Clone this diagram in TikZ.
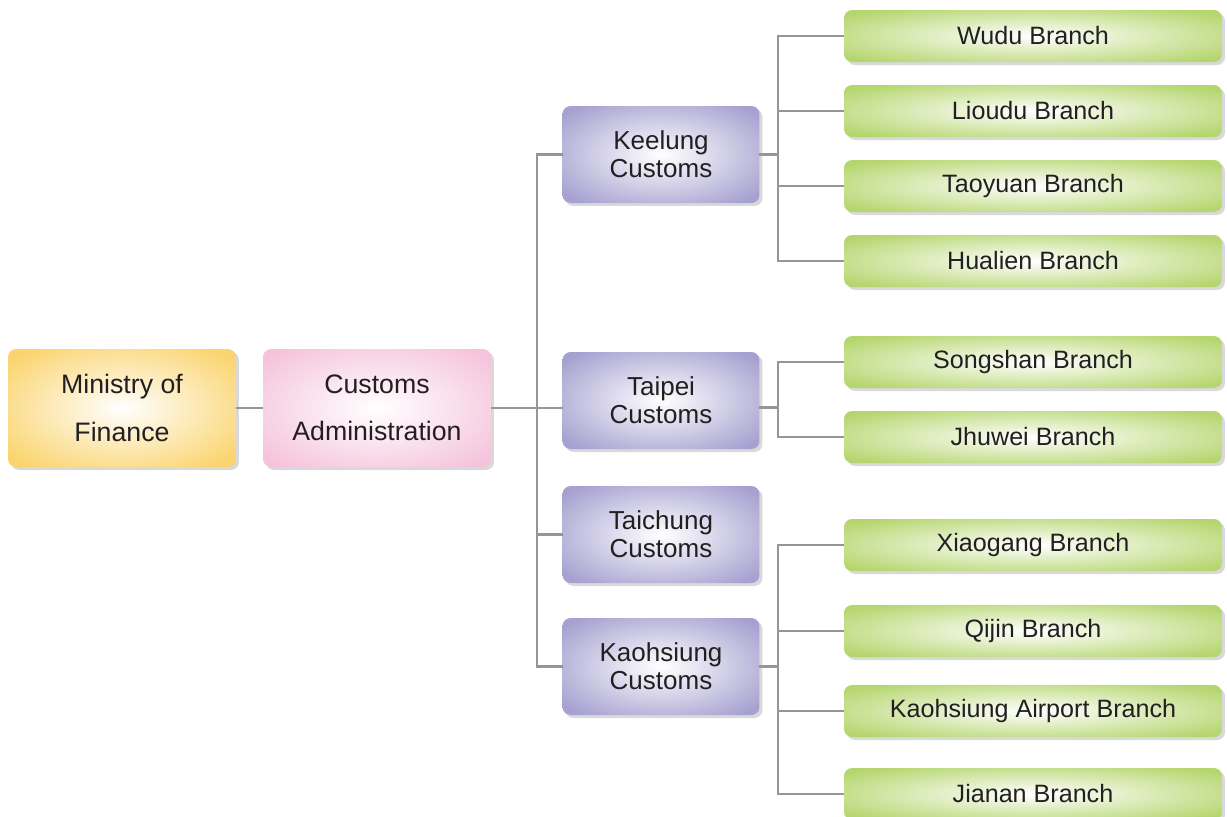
\documentclass[tikz,border=0pt]{standalone}
\usepackage{fontspec}
\setmainfont{Liberation Sans}
\usepackage{tikz}
\usetikzlibrary{shadows}

\definecolor{finyellow}{RGB}{250,212,110}
\definecolor{adminpink}{RGB}{245,196,220}
\definecolor{custpurple}{RGB}{166,161,208}
\definecolor{branchgreen}{RGB}{181,214,110}
\definecolor{linegray}{RGB}{150,150,150}
\definecolor{textgray}{RGB}{35,31,32}
\colorlet{glowrim}{white}

\pgfdeclareradialshading[glowrim]{glow}{\pgfpoint{0bp}{0bp}}{color(0bp)=(white); color(32bp)=(glowrim); color(50bp)=(glowrim)}

\tikzset{
  box/.style={rounded corners=0.16cm, inner sep=0pt, outer sep=0pt, align=center,
    text=textgray, shading=glow, /utils/exec={\colorlet{glowrim}{#1}},
    drop shadow={shadow xshift=0.06cm, shadow yshift=-0.06cm, fill=black!15, opacity=1}},
  topbox/.style={box=#1, minimum width=4.56cm, minimum height=2.36cm, font=\fontsize{15.2}{27}\selectfont},
  custbox/.style={box=custpurple, minimum width=3.94cm, minimum height=1.94cm, font=\fontsize{14.8}{16}\selectfont},
  branchbox/.style={box=branchgreen, minimum width=7.56cm, minimum height=1.04cm, font=\fontsize{14.3}{15}\selectfont},
  conn/.style={draw=linegray, line width=1.6pt}
}

\begin{document}
\begin{tikzpicture}[x=0.02cm, y=-0.02cm]
\useasboundingbox (0,0) rectangle (1227,816);

% top of the tree
\node[topbox=finyellow] (ministry) at (122,408) {Ministry of\\Finance};
\node[topbox=adminpink] (admin) at (377,408) {Customs\\Administration};

% customs offices
\node[custbox] (keelung) at (661,154.5) {Keelung\\Customs};
\node[custbox] (taipei) at (661,400.5) {Taipei\\Customs};
\node[custbox] (taichung) at (661,534.5) {Taichung\\Customs};
\node[custbox] (kaohsiung) at (661,666.5) {Kaohsiung\\Customs};

% branches
\node[branchbox] (wudu) at (1033,36) {Wudu Branch};
\node[branchbox] (lioudu) at (1033,111) {Lioudu Branch};
\node[branchbox] (taoyuan) at (1033,186) {Taoyuan Branch};
\node[branchbox] (hualien) at (1033,261) {Hualien Branch};
\node[branchbox] (songshan) at (1033,362) {Songshan Branch};
\node[branchbox] (jhuwei) at (1033,437) {Jhuwei Branch};
\node[branchbox] (xiaogang) at (1033,545) {Xiaogang Branch};
\node[branchbox] (qijin) at (1033,631) {Qijin Branch};
\node[branchbox] (airport) at (1033,711) {Kaohsiung Airport Branch};
\node[branchbox] (jianan) at (1033,794) {Jianan Branch};

\coordinate (trunk) at (537,0);
\coordinate (bus) at (778,0);

% connectors
\draw[conn] (ministry.east) -- (admin.west);
\draw[conn] (admin.east) -- (taipei.west |- admin.east);
\draw[conn] (keelung.west) -- (keelung.west -| trunk) -- (kaohsiung.west -| trunk) -- (kaohsiung.west);
\draw[conn] (taichung.west) -- (taichung.west -| trunk);

\draw[conn] (keelung.east) -- (keelung.east -| bus);
\draw[conn] (wudu.west) -- (wudu.west -| bus) -- (hualien.west -| bus) -- (hualien.west);
\foreach \b in {lioudu, taoyuan}
  \draw[conn] (\b.west) -- (\b.west -| bus);

\draw[conn] ([yshift=-0.14cm]taipei.east) -- ([yshift=-0.14cm]taipei.east -| bus);
\draw[conn] (songshan.west) -- (songshan.west -| bus) -- (jhuwei.west -| bus) -- (jhuwei.west);

\draw[conn] (kaohsiung.east) -- (kaohsiung.east -| bus);
\draw[conn] (xiaogang.west) -- (xiaogang.west -| bus) -- (jianan.west -| bus) -- (jianan.west);
\foreach \b in {qijin, airport}
  \draw[conn] (\b.west) -- (\b.west -| bus);
\end{tikzpicture}
\end{document}
